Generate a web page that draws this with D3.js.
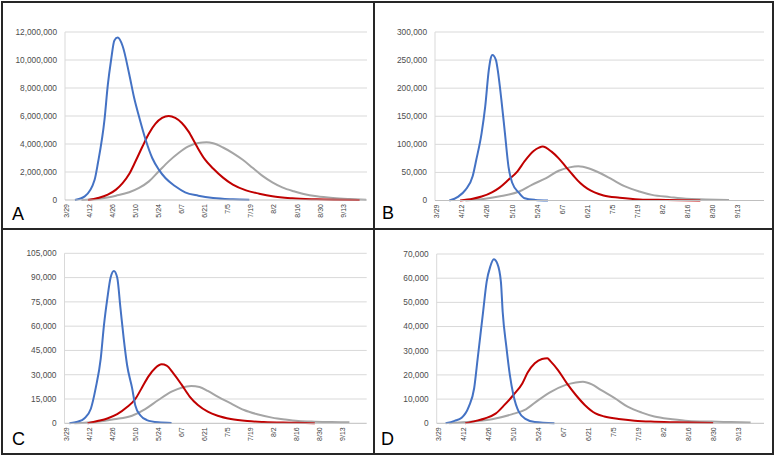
<!DOCTYPE html>
<html>
<head>
<meta charset="utf-8">
<script src="https://cdn.jsdelivr.net/npm/d3@7"></script>
<style>
  body { margin: 0; background: #fff; }
  text { font-family: "Liberation Sans", Arial, sans-serif; }
</style>
</head>
<body>
<svg id="chart" width="775" height="457"></svg>
<script>
// x axis: day offsets from 3/29, labelled every 14 days
const tickDays = [0, 14, 28, 42, 56, 70, 84, 98, 112, 126, 140, 154, 168];
const tickLabels = ["3/29", "4/12", "4/26", "5/10", "5/24", "6/7", "6/21", "7/5", "7/19", "8/2", "8/16", "8/30", "9/13"];

// [day, value]
const aBlue = [[5,0],[11,260000],[17,1450000],[19,2640000],[23,5740000],[25,8200000],[27,10000000],[29,11400000],[31,11600000],[34,11000000],[38,9000000],[41,7300000],[44,5950000],[48,4300000],[52,3000000],[56,2170000],[60,1570000],[66,980000],[72,550000],[80,310000],[89,140000],[101,50000],[111,20000]];
const aRed = [[13,0],[19,140000],[25,380000],[30,740000],[34,1200000],[38,1850000],[42,2800000],[46,3800000],[50,4750000],[54,5450000],[58,5860000],[62,6000000],[66,5860000],[70,5500000],[74,4900000],[78,4070000],[80,3650000],[84,2900000],[89,2250000],[95,1600000],[101,1100000],[109,690000],[117,450000],[125,260000],[137,120000],[152,50000],[162,20000],[178,0]];
const aGray = [[9,0],[19,70000],[30,310000],[38,550000],[44,860000],[50,1330000],[56,2050000],[62,2760000],[68,3360000],[74,3830000],[80,4070000],[85,4120000],[89,4050000],[95,3750000],[101,3350000],[107,2870000],[113,2300000],[119,1720000],[125,1260000],[131,900000],[138,620000],[144,430000],[152,260000],[162,140000],[172,70000],[182,20000]];

const bBlue = [[7,0],[12,7000],[16,19000],[20,43000],[22,72000],[25,120000],[27,167000],[29,232000],[30,252000],[31,259000],[33,250000],[34,232000],[36,180000],[38,120000],[40,60000],[42,32000],[46,13000],[49,4000],[55,1000],[62,0]];
const bRed = [[13,0],[20,3000],[25,7000],[31,15000],[35,23000],[40,37000],[45,52000],[49,70000],[54,88000],[57,94000],[59,96000],[64,87000],[68,75000],[72,60000],[76,45000],[80,31000],[84,21000],[88,14500],[93,9000],[102,5000],[113,2000],[128,1000],[147,0]];
const bGray = [[16,0],[27,3000],[36,8000],[46,16000],[53,28000],[61,40000],[68,53000],[74,59000],[79,61000],[85,57000],[91,49000],[98,37000],[105,25000],[113,16000],[120,10000],[130,6000],[139,3000],[150,2000],[163,1000]];

const cBlue = [[2,0],[7,1000],[11,3000],[15,9000],[18,22000],[21,40000],[23,61000],[25,77000],[27,90000],[29,94000],[31,90000],[33,71000],[35,52000],[37,36000],[40,22000],[42,11000],[45,5000],[49,2000],[56,600],[64,200]];
const cRed = [[13,0],[19,1400],[25,3000],[31,5600],[37,10000],[42,15000],[46,22000],[50,29000],[54,34000],[58,36400],[61,35600],[65,31000],[70,24000],[75,16500],[80,11300],[86,7200],[92,4700],[100,2700],[110,1400],[120,800],[137,400],[151,100]];
const cGray = [[5,0],[19,1000],[29,2500],[40,4700],[48,8800],[56,14400],[64,19500],[70,22000],[76,23000],[81,22400],[86,20000],[92,16500],[100,12300],[108,8200],[116,5600],[125,3500],[133,2300],[141,1400],[151,1000],[161,800],[172,600]];

const dBlue = [[4,0],[9,1000],[13,2300],[17,6900],[20,14500],[22,27000],[25,46000],[27,58500],[29,64700],[31,67800],[33,66000],[35,58500],[36,46000],[38,32000],[40,20000],[42,11700],[45,4800],[49,1700],[54,500],[65,0]];
const dRed = [[15,0],[21,1000],[26,2000],[32,4000],[37,7600],[42,11700],[47,16500],[50,21000],[54,24800],[58,26600],[61,26900],[63,25500],[67,22000],[72,16500],[77,11700],[82,7600],[88,4100],[93,2800],[101,1800],[110,1100],[119,700],[134,400],[154,100]];
const dGray = [[6,0],[19,700],[30,1700],[41,3700],[49,5800],[56,9600],[63,13000],[71,15800],[77,16900],[81,17200],[86,16100],[91,13800],[99,10300],[106,6900],[114,4400],[121,2800],[131,1700],[140,1000],[153,700],[164,500],[175,300]];

const colors = ["#4472c4", "#c00000", "#a5a5a5"];

const panels = [
  { letter: "A", series: [aBlue, aRed, aGray], yMax: 12000000, yStep: 2000000,
    plot: { left: 65, right: 367, top: 32, bottom: 200 }, letterPos: [12, 220] },
  { letter: "B", series: [bBlue, bRed, bGray], yMax: 300000, yStep: 50000,
    plot: { left: 435, right: 764, top: 32, bottom: 200.5 }, letterPos: [382, 219] },
  { letter: "C", series: [cBlue, cRed, cGray], yMax: 105000, yStep: 15000,
    plot: { left: 64.5, right: 366.7, top: 253.3, bottom: 423.3 }, letterPos: [12, 445] },
  { letter: "D", series: [dBlue, dRed, dGray], yMax: 70000, yStep: 10000,
    plot: { left: 436.7, right: 764, top: 254, bottom: 423.3 }, letterPos: [381, 445] },
];

const svg = d3.select("#chart");
const fmt = d3.format(",");

panels.forEach((p) => {
  const xScale = d3.scaleLinear().domain([-1, 182.5]).range([p.plot.left, p.plot.right]);
  const yScale = d3.scaleLinear().domain([0, p.yMax]).range([p.plot.bottom, p.plot.top]);
  const g = svg.append("g");

  const yTicks = d3.range(0, p.yMax + p.yStep / 2, p.yStep);

  // gridlines
  g.selectAll(".grid")
    .data(yTicks.slice(1))
    .join("line")
    .attr("x1", p.plot.left)
    .attr("x2", p.plot.right)
    .attr("y1", (d) => yScale(d))
    .attr("y2", (d) => yScale(d))
    .attr("stroke", "#d9d9d9")
    .attr("stroke-width", 1);

  // vertical axis line
  g.append("line")
    .attr("x1", p.plot.left).attr("x2", p.plot.left)
    .attr("y1", p.plot.top).attr("y2", p.plot.bottom)
    .attr("stroke", "#d9d9d9")
    .attr("stroke-width", 1);

  // y labels
  g.selectAll(".ylab")
    .data(yTicks)
    .join("text")
    .attr("x", p.plot.left - 8)
    .attr("y", (d) => yScale(d))
    .attr("dy", "0.35em")
    .attr("text-anchor", "end")
    .attr("font-size", "8.3px")
    .attr("fill", "#4d4d4d")
    .text((d) => fmt(d));

  // x labels, rotated
  g.selectAll(".xlab")
    .data(tickDays)
    .join("text")
    .attr("transform", (d) => `translate(${xScale(d)},${p.plot.bottom + 4}) rotate(-90)`)
    .attr("dy", "0.35em")
    .attr("text-anchor", "end")
    .attr("font-size", "7px")
    .attr("fill", "#404040")
    .text((d, i) => tickLabels[i]);

  const line = d3.line()
    .x((d) => xScale(d[0]))
    .y((d) => yScale(d[1]))
    .curve(d3.curveMonotoneX);

  // gray first, then red, then blue on top
  [2, 1, 0].forEach((k) => {
    g.append("path")
      .datum(p.series[k])
      .attr("fill", "none")
      .attr("stroke", colors[k])
      .attr("stroke-width", 2)
      .attr("stroke-linejoin", "round")
      .attr("d", line);
  });

  // x axis line
  g.append("line")
    .attr("x1", p.plot.left).attr("x2", p.plot.right)
    .attr("y1", p.plot.bottom).attr("y2", p.plot.bottom)
    .attr("stroke", "#bfbfbf")
    .attr("stroke-width", 1);

  g.append("text")
    .attr("x", p.letterPos[0])
    .attr("y", p.letterPos[1])
    .attr("font-size", "18px")
    .attr("fill", "#000")
    .text(p.letter);
});

// frame and dividers
svg.append("rect")
  .attr("x", 2).attr("y", 2)
  .attr("width", 771).attr("height", 452)
  .attr("fill", "none")
  .attr("stroke", "#262626")
  .attr("stroke-width", 2);

svg.append("line")
  .attr("x1", 374).attr("x2", 374)
  .attr("y1", 2).attr("y2", 454)
  .attr("stroke", "#262626")
  .attr("stroke-width", 2);

svg.append("line")
  .attr("x1", 2).attr("x2", 773)
  .attr("y1", 229).attr("y2", 229)
  .attr("stroke", "#262626")
  .attr("stroke-width", 2);
</script>
</body>
</html>
